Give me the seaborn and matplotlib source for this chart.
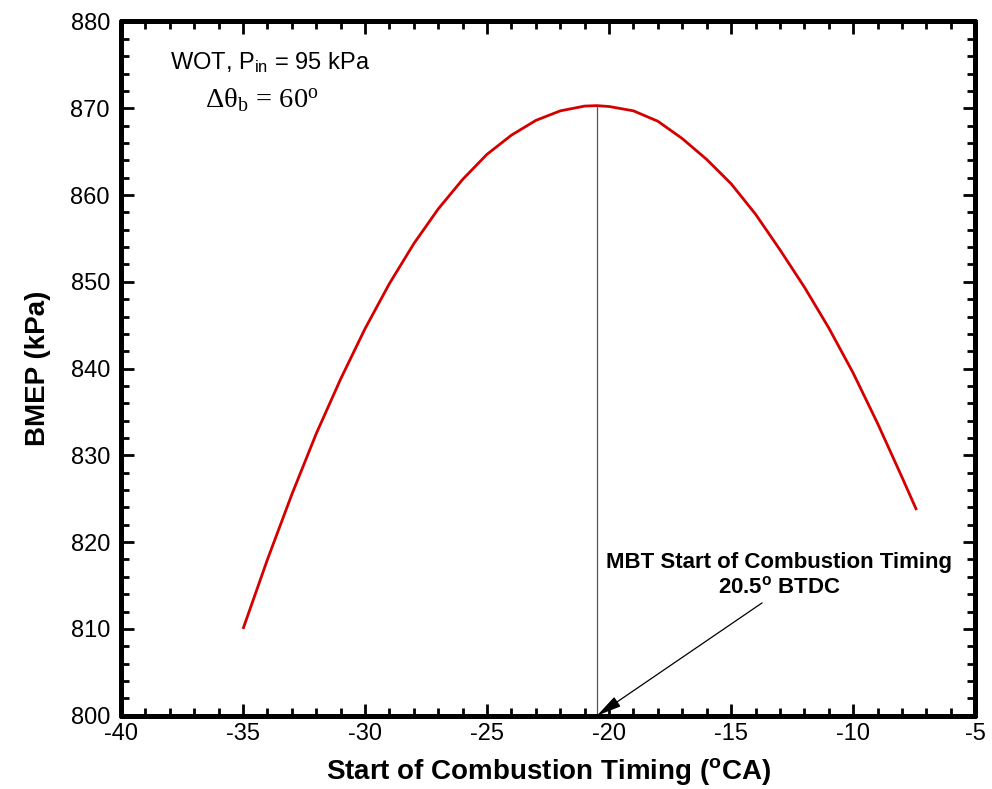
import matplotlib
matplotlib.use("Agg")
import matplotlib.pyplot as plt
from matplotlib.ticker import MultipleLocator
import seaborn as sns
import pandas as pd

timing = [-35, -34, -33, -32, -31, -30, -29, -28, -27, -26, -25, -24, -23, -22, -21,
          -20.5, -20, -19, -18, -17, -16, -15, -14, -13, -12, -11, -10, -9, -8, -7.4]
bmep = [810.0, 818.0, 825.5, 832.5, 838.8, 844.6, 849.8, 854.4, 858.4, 861.8, 864.7,
        866.9, 868.6, 869.7, 870.25, 870.3, 870.2, 869.7, 868.5, 866.5, 864.1, 861.3,
        857.8, 853.7, 849.4, 844.7, 839.5, 833.7, 827.5, 823.7]
mbt_timing = -20.5
mbt_bmep = 870.3
xticks = [-40, -35, -30, -25, -20, -15, -10, -5]
yticks = [800, 810, 820, 830, 840, 850, 860, 870, 880]

sns.set_style("ticks")
plt.rcParams['font.family'] = ['Liberation Sans', 'DejaVu Sans']
plt.rcParams['mathtext.fontset'] = 'stix'
plt.rcParams['axes.unicode_minus'] = False
for k in ['text.color', 'axes.labelcolor', 'xtick.color', 'ytick.color', 'axes.edgecolor']:
    plt.rcParams[k] = 'black'

df = pd.DataFrame({"timing": timing, "bmep": bmep})

fig = plt.figure(figsize=(9.92, 7.89), dpi=100)
ax = fig.add_axes([0.122, 0.0929, 0.861, 0.8799])

sns.lineplot(data=df, x="timing", y="bmep", ax=ax, color="#d40000", linewidth=2.0,
             solid_joinstyle='round', solid_capstyle='butt')

ax.plot([mbt_timing, mbt_timing], [800, mbt_bmep], color="#555555", linewidth=0.9)

ax.set_xlim(-40, -5)
ax.set_ylim(800, 880)
ax.set_xticks(xticks)
ax.set_yticks(yticks)
ax.xaxis.set_minor_locator(MultipleLocator(1))
ax.yaxis.set_minor_locator(MultipleLocator(2))
ax.tick_params(which='both', direction='in', top=True, right=True, width=2.0, colors='black')
ax.tick_params(which='major', length=9, labelsize=17)
ax.tick_params(axis='y', which='major', pad=8)
ax.tick_params(axis='x', which='major', pad=5)
ax.tick_params(which='minor', length=5.5)
for s in ax.spines.values():
    s.set_linewidth(3.6)
    s.set_color('black')
    s.set_capstyle('round')

ax.set_xlabel("Start of Combustion Timing ($\\mathregular{^oCA}$)", fontsize=20, fontweight='bold', labelpad=8)
ax.set_ylabel("BMEP (kPa)", fontsize=20, fontweight='bold', labelpad=14)

ax.text(-37.99, 875.3, "WOT, P$\\mathregular{_{in}}$ = 95 kPa", fontsize=17, va='center', ha='left')
ax.text(-36.56, 870.9, "$\\mathregular{\u0394\u03b8_b\\,=\\,60^o}$",
        fontsize=20.5, va='center', ha='left', family='Liberation Serif')

ax.text(-13.03, 817.6, "MBT Start of Combustion Timing", fontsize=16, fontweight='bold', ha='center', va='center')
ax.text(-13.03, 814.75, "20.5$\\mathregular{^o}$ BTDC", fontsize=16, fontweight='bold', ha='center', va='center')
ax.annotate("", xy=(mbt_timing, 800), xytext=(-13.73, 813.0),
            arrowprops=dict(arrowstyle='-|>,head_length=0.7,head_width=0.16', color='black', lw=0.9,
                            mutation_scale=22, shrinkA=0, shrinkB=0))

fig.savefig("out.png", dpi=100)
